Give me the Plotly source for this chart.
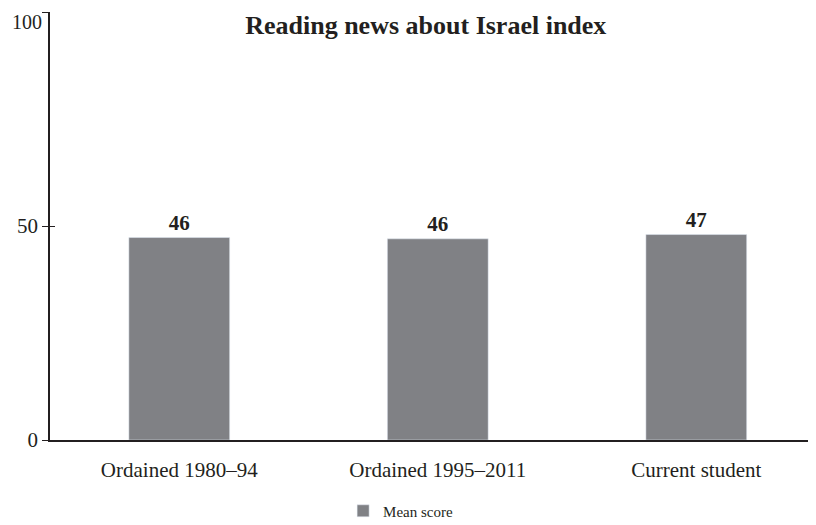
import plotly.graph_objects as go

# data
categories = ["Ordained 1980\u201394", "Ordained 1995\u20132011", "Current student"]
mean_score = [47.3, 47.0, 48.0]
score_labels = ["46", "46", "47"]
y_ticks = [0, 50, 100]
y_tick_text = ["0", "50", ""]  # the top label is placed separately, nudged down

font_family = "Liberation Serif, DejaVu Serif, serif"
ink = "#231f20"
bar_color = "#808185"

fig = go.Figure()

fig.add_trace(go.Bar(
    x=categories,
    y=mean_score,
    name="Mean score",
    marker_color=bar_color,
    width=0.39,
    text=score_labels,
    textposition="outside",
    textfont=dict(family=font_family, size=21, color=ink, weight="bold"),
    cliponaxis=False,
))

# invisible overlay axis so the y ticks cross the axis line
fig.add_trace(go.Scatter(x=[categories[0]], y=[None], yaxis="y2",
                         showlegend=False, hoverinfo="skip"))

# top y label sits just under its tick, like the original
fig.add_annotation(
    x=0, xref="paper", xanchor="right", xshift=-7,
    y=y_ticks[-1], yref="y", yanchor="top", yshift=2,
    text=str(y_ticks[-1]), showarrow=False, borderpad=0,
    font=dict(family=font_family, size=20, color=ink),
)

fig.update_layout(
    width=816,
    height=525,
    paper_bgcolor="white",
    plot_bgcolor="white",
    margin=dict(l=42, r=0, t=4, b=93),
    font=dict(family=font_family, size=21, color=ink),
    title=dict(
        text="<b>Reading news about Israel index</b>",
        x=0.512,
        xanchor="center",
        y=0.968,
        yanchor="middle",
        font=dict(family=font_family, size=26, color=ink),
    ),
    xaxis=dict(
        range=[-0.5, 2.494],
        showline=True,
        linecolor=ink,
        linewidth=1.5,
        ticks="",
        showgrid=False,
        automargin=False,
        ticklabelstandoff=10,
        tickfont=dict(size=21),
    ),
    yaxis=dict(
        range=[0, 100],
        tickvals=y_ticks,
        ticktext=y_tick_text,
        showline=True,
        linecolor=ink,
        linewidth=1.5,
        ticks="outside",
        ticklen=6,
        tickcolor=ink,
        showgrid=False,
        zeroline=False,
        automargin=False,
        tickfont=dict(size=21),
    ),
    yaxis2=dict(
        range=[0, 100],
        tickvals=y_ticks,
        overlaying="y",
        side="left",
        ticks="inside",
        ticklen=5,
        tickcolor=ink,
        showticklabels=False,
        showgrid=False,
        zeroline=False,
        showline=False,
        automargin=False,
    ),
    showlegend=True,
    legend=dict(
        orientation="h",
        x=0.453,
        xanchor="center",
        y=-0.166,
        yanchor="middle",
        font=dict(size=15, color=ink),
    ),
    bargap=0.6,
)

fig.write_html("out.html")
